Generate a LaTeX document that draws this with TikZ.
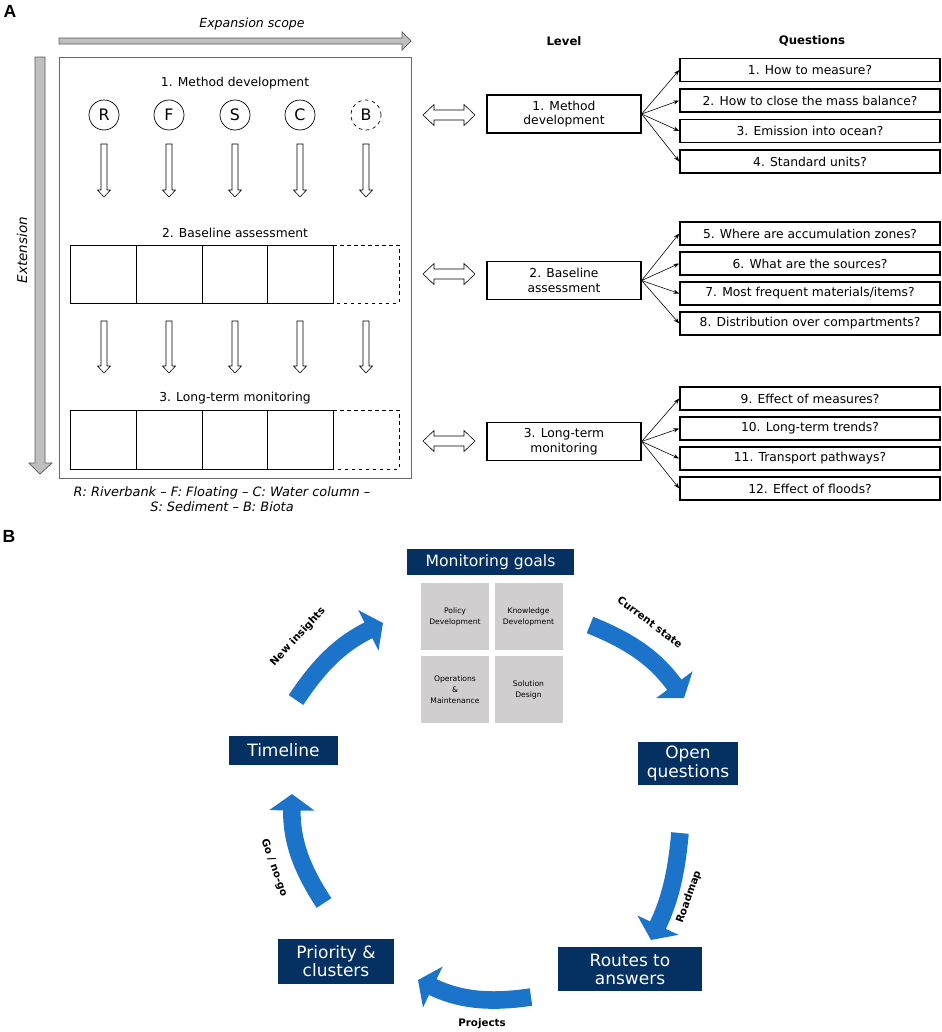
\documentclass[tikz,border=0pt]{standalone}
\usepackage{fontspec}
\setmainfont{DejaVu Sans}
\newfontfamily\panelfont{Liberation Sans}
\usepackage{tikz}
\usetikzlibrary{positioning,calc,arrows.meta}

\definecolor{navy}{RGB}{4,48,98}
\definecolor{cycleblue}{RGB}{27,116,202}
\definecolor{goalgray}{RGB}{208,206,206}
\definecolor{scopegray}{RGB}{191,191,191}

\tikzset{
    panel/.style={font=\panelfont\bfseries\fontsize{15}{18}\selectfont},
    hollow/.style={draw=black, fill=white, line width=0.5pt},
    scopearrow/.style={draw=black!65, fill=scopegray, line width=0.6pt},
    lvlbox/.style={draw, line width=1.1pt, minimum width=4.62cm, minimum height=1.14cm, align=center, inner sep=0pt, font=\fontsize{10.5}{12.5}\selectfont},
    qbox/.style={draw, line width=1.3pt, minimum width=7.8cm, minimum height=0.69cm, inner sep=0pt},
    fan/.style={line width=0.5pt, -{Stealth[length=5pt,width=3.5pt]}},
    goalbox/.style={fill=navy, text=white, inner sep=0pt, align=center},
    goalsq/.style={fill=goalgray, minimum width=2.04cm, minimum height=2.01cm, inner sep=0pt, align=center, font=\fontsize{6.5}{9.4}\selectfont},
    cyclearrow/.style={draw=cycleblue, line width=15pt, -{Triangle[width=38pt,length=14pt]}},
    cyclelabel/.style={font=\bfseries\fontsize{8.8}{10}\selectfont}
}

% hollow arrow pointing down: x, top, tip
\newcommand{\hollowdown}[3]{%
    \draw[hollow] ({#1-3},-#2) -- ({#1+3},-#2) -- ({#1+3},{-#3+7}) -- ({#1+6.5},{-#3+7})
        -- (#1,-#3) -- ({#1-6.5},{-#3+7}) -- ({#1-3},{-#3+7}) -- cycle;}

% hollow double arrow between box and level: y
\newcommand{\hollowboth}[1]{%
    \draw[hollow] (423,-#1) -- (434,{-#1+10.5}) -- (434,{-#1+5}) -- (464,{-#1+5})
        -- (464,{-#1+10.5}) -- (475,-#1) -- (464,{-#1-10.5}) -- (464,{-#1-5})
        -- (434,{-#1-5}) -- (434,{-#1-10.5}) -- cycle;}

\begin{document}
\begin{tikzpicture}[x=0.03cm, y=0.03cm, font=\fontsize{10.5}{12.5}\selectfont]
    \useasboundingbox (0,0) rectangle (941,-1032);

    % ---------------- panel A ----------------
    \node [panel] (labelA) at (10,-11) {A};

    \node [font=\itshape\fontsize{10.7}{12.5}\selectfont] (scope) at (252,-24) {Expansion scope};
    \draw [scopearrow] (59,-38) -- (402,-38) -- (402,-32) -- (411,-41) -- (402,-50) -- (402,-44) -- (59,-44) -- cycle;
    \draw [scopearrow] (35,-57) -- (45,-57) -- (45,-463) -- (52,-463) -- (40,-474) -- (29,-463) -- (35,-463) -- cycle;
    \node [rotate=90, font=\itshape\fontsize{11.5}{13}\selectfont] (ext) at (22,-250) {Extension};

    \draw [draw=black!60, line width=0.7pt] (59,-57) rectangle (411,-478);

    \node (stage1) at (235,-83) {1. Method development};
    \node (stage2) at (235,-233) {2. Baseline assessment};
    \node (stage3) at (235,-398) {3. Long-term monitoring};

    \foreach \x/\lbl in {104/R,169/F,235/S,300/C}
        \node [draw, circle, line width=0.6pt, minimum size=0.9cm, inner sep=0pt, font=\fontsize{13.5}{15}\selectfont] (c\lbl) at (\x,-115) {\lbl};
    \node [draw, dashed, circle, line width=0.6pt, minimum size=0.9cm, inner sep=0pt, font=\fontsize{13.5}{15}\selectfont] (cB) at (366,-115) {B};

    \foreach \x in {104,169,235,300,366} {
        \hollowdown{\x}{144}{197}
        \hollowdown{\x}{321}{373}
    }

    \foreach \xa/\xb in {70/136,136/202,202/267,267/333} {
        \draw [line width=0.6pt] (\xa,-245) rectangle (\xb,-303);
        \draw [line width=0.6pt] (\xa,-410) rectangle (\xb,-469);
    }
    \draw [dashed, line width=0.6pt] (333,-245) -- (399,-245) -- (399,-303) -- (333,-303);
    \draw [dashed, line width=0.6pt] (333,-410) -- (399,-410) -- (399,-469) -- (333,-469);

    \node [align=center, font=\itshape\fontsize{11}{12.8}\selectfont] (legend) at (222,-499.5)
        {R: Riverbank -- F: Floating -- C: Water column --\\S: Sediment -- B: Biota};

    \hollowboth{115}
    \hollowboth{274}
    \hollowboth{441}

    \node [font=\bfseries] (level) at (564,-41) {Level};
    \node [font=\bfseries] (quest) at (812,-41) {Questions};

    \node [lvlbox] (lvl1) at (564,-114) {1. Method\\development};
    \node [lvlbox] (lvl2) at (564,-280.5) {2. Baseline\\assessment};
    \node [lvlbox] (lvl3) at (564,-441.5) {3. Long-term\\monitoring};

    \node [qbox] (q1) at (810,-70) {1. How to measure?};
    \node [qbox] (q2) at (810,-100.5) {2. How to close the mass balance?};
    \node [qbox] (q3) at (810,-131) {3. Emission into ocean?};
    \node [qbox] (q4) at (810,-161.5) {4. Standard units?};

    \node [qbox] (q5) at (810,-233.5) {5. Where are accumulation zones?};
    \node [qbox] (q6) at (810,-263.5) {6. What are the sources?};
    \node [qbox] (q7) at (810,-293.5) {7. Most frequent materials/items?};
    \node [qbox] (q8) at (810,-323.5) {8. Distribution over compartments?};

    \node [qbox] (q9) at (810,-398.5) {9. Effect of measures?};
    \node [qbox] (q10) at (810,-428.5) {10. Long-term trends?};
    \node [qbox] (q11) at (810,-458.5) {11. Transport pathways?};
    \node [qbox] (q12) at (810,-488.5) {12. Effect of floods?};

    \foreach \q in {1,...,4}
        \draw [fan] (lvl1.east) -- (q\q.west);
    \foreach \q in {5,...,8}
        \draw [fan] (lvl2.east) -- (q\q.west);
    \foreach \q in {9,...,12}
        \draw [fan] (lvl3.east) -- (q\q.west);

    % ---------------- panel B ----------------
    \node [panel] (labelB) at (9,-536) {B};

    \node [goalbox, minimum width=5.01cm, minimum height=0.78cm, font=\fontsize{13.3}{15}\selectfont] (goals) at (490.5,-562) {Monitoring goals};
    \node [goalsq] (policy) at (455,-616.5) {Policy\\Development};
    \node [goalsq] (knowledge) at (528.5,-616.5) {Knowledge\\Development};
    \node [goalsq] (operations) at (455,-689.5) {Operations\\\&\\Maintenance};
    \node [goalsq] (solution) at (528.5,-689.5) {Solution\\Design};

    \node [goalbox, minimum width=3.27cm, minimum height=0.87cm, font=\fontsize{14.5}{15.5}\selectfont] (timeline) at (283.5,-750.5) {Timeline};
    \node [goalbox, minimum width=3.0cm, minimum height=1.29cm, font=\fontsize{14.5}{15.5}\selectfont] (open) at (688,-763.5) {Open\\questions};
    \node [goalbox, minimum width=4.32cm, minimum height=1.32cm, font=\fontsize{14.5}{15.5}\selectfont] (routes) at (630,-969) {Routes to\\answers};
    \node [goalbox, minimum width=3.48cm, minimum height=1.35cm, font=\fontsize{14.5}{15.5}\selectfont] (priority) at (336,-961.5) {Priority \&\\clusters};

    \coordinate (ni-s) at (296,-700);
    \coordinate (ni-e) at (383,-623);
    \coordinate (cs-s) at (590,-625);
    \coordinate (cs-e) at (684,-698);
    \coordinate (rm-s) at (680,-833);
    \coordinate (rm-e) at (651,-940);
    \coordinate (pj-s) at (531,-997);
    \coordinate (pj-e) at (418,-980);
    \coordinate (go-s) at (324,-903);
    \coordinate (go-e) at (292,-794);

    \draw [cyclearrow] (ni-s) to[bend left=15] (ni-e);
    \draw [cyclearrow] (cs-s) to[bend left=16] (cs-e);
    \draw [cyclearrow] (rm-s) to[bend left=10] (rm-e);
    \draw [cyclearrow] (pj-s) to[bend left=17] (pj-e);
    \draw [cyclearrow] (go-s) to[bend left=17] (go-e);

    \node [cyclelabel, rotate=47] (ni-lbl) at (298,-637) {New insights};
    \node [cyclelabel, rotate=-37] (cs-lbl) at (650,-622) {Current state};
    \node [cyclelabel, rotate=70] (rm-lbl) at (689,-897) {Roadmap};
    \node [cyclelabel] (pj-lbl) at (482,-1024) {Projects};
    \node [cyclelabel, rotate=-70] (go-lbl) at (274,-868) {Go / no-go};
\end{tikzpicture}
\end{document}
